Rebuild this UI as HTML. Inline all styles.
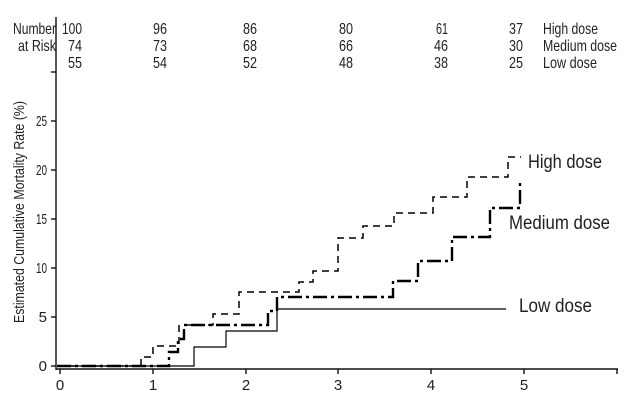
<!DOCTYPE html>
<html><head><meta charset="utf-8"><style>
body{margin:0;background:#fff}
svg text{font-family:"Liberation Sans Narrow","Liberation Sans",sans-serif;fill:#222}
</style></head><body>
<svg width="625" height="402" viewBox="0 0 625 402" xmlns="http://www.w3.org/2000/svg">
<g font-size="16">
<text x="13" y="34" textLength="43" lengthAdjust="spacingAndGlyphs">Number</text>
<text x="18" y="51" textLength="38" lengthAdjust="spacingAndGlyphs">at Risk</text>
<g text-anchor="end">
<text x="82" y="34" textLength="20" lengthAdjust="spacingAndGlyphs">100</text><text x="167" y="34" textLength="14" lengthAdjust="spacingAndGlyphs">96</text><text x="257" y="34" textLength="14" lengthAdjust="spacingAndGlyphs">86</text><text x="353" y="34" textLength="14" lengthAdjust="spacingAndGlyphs">80</text><text x="448" y="34" textLength="12" lengthAdjust="spacingAndGlyphs">61</text><text x="523" y="34" textLength="14" lengthAdjust="spacingAndGlyphs">37</text>
<text x="82" y="51" textLength="14" lengthAdjust="spacingAndGlyphs">74</text><text x="167" y="51" textLength="14" lengthAdjust="spacingAndGlyphs">73</text><text x="257" y="51" textLength="14" lengthAdjust="spacingAndGlyphs">68</text><text x="353" y="51" textLength="14" lengthAdjust="spacingAndGlyphs">66</text><text x="448" y="51" textLength="14" lengthAdjust="spacingAndGlyphs">46</text><text x="523" y="51" textLength="14" lengthAdjust="spacingAndGlyphs">30</text>
<text x="82" y="68" textLength="14" lengthAdjust="spacingAndGlyphs">55</text><text x="167" y="68" textLength="14" lengthAdjust="spacingAndGlyphs">54</text><text x="257" y="68" textLength="14" lengthAdjust="spacingAndGlyphs">52</text><text x="353" y="68" textLength="14" lengthAdjust="spacingAndGlyphs">48</text><text x="448" y="68" textLength="14" lengthAdjust="spacingAndGlyphs">38</text><text x="523" y="68" textLength="14" lengthAdjust="spacingAndGlyphs">25</text>
</g>
<text x="543" y="34" textLength="55" lengthAdjust="spacingAndGlyphs">High dose</text>
<text x="543" y="51" textLength="74" lengthAdjust="spacingAndGlyphs">Medium dose</text>
<text x="543" y="68" textLength="54" lengthAdjust="spacingAndGlyphs">Low dose</text>
</g>
<g stroke="#111" stroke-width="1.4" fill="none">
<line x1="56" y1="17" x2="56" y2="370"/>
<line x1="56" y1="369" x2="618" y2="369"/>
<line x1="51" y1="72" x2="56" y2="72"/>
<line x1="51" y1="121" x2="56" y2="121"/>
<line x1="51" y1="170" x2="56" y2="170"/>
<line x1="51" y1="219" x2="56" y2="219"/>
<line x1="51" y1="268" x2="56" y2="268"/>
<line x1="51" y1="317" x2="56" y2="317"/>
<line x1="51" y1="366" x2="56" y2="366"/>
<line x1="60" y1="369" x2="60" y2="374"/>
<line x1="153" y1="369" x2="153" y2="374"/>
<line x1="246" y1="369" x2="246" y2="374"/>
<line x1="338" y1="369" x2="338" y2="374"/>
<line x1="431" y1="369" x2="431" y2="374"/>
<line x1="524" y1="369" x2="524" y2="374"/>
<line x1="617" y1="369" x2="617" y2="374"/>
</g>
<g font-size="15" text-anchor="end">
<text x="47" y="126" textLength="11" lengthAdjust="spacingAndGlyphs">25</text><text x="47" y="175" textLength="11" lengthAdjust="spacingAndGlyphs">20</text><text x="47" y="224" textLength="11" lengthAdjust="spacingAndGlyphs">15</text><text x="47" y="273" textLength="11" lengthAdjust="spacingAndGlyphs">10</text><text x="47" y="322">5</text><text x="47" y="371">0</text>
</g>
<g font-size="15" text-anchor="middle">
<text x="60" y="390">0</text><text x="153" y="390">1</text><text x="246" y="390">2</text><text x="338" y="390">3</text><text x="431" y="390">4</text><text x="524" y="390">5</text>
</g>
<text font-size="15" text-anchor="middle" textLength="222" lengthAdjust="spacingAndGlyphs" transform="translate(24,212) rotate(-90)">Estimated Cumulative Mortality Rate (%)</text>
<polyline fill="none" stroke="#000" stroke-width="1.2" points="57,366 194,366 194,347 226,347 226,331 277,331 277,309 506,309"/>
<polyline fill="none" stroke="#000" stroke-width="1.5" stroke-dasharray="7,5" points="57,366 141,366 141,357 153,357 153,346 179,346 179,325 213,325 213,314 239,314 239,292 299,292 299,282 313,282 313,271 338,271 338,238 363,238 363,226 394,226 394,213 433,213 433,197 467,197 467,177 508,177 508,157 521,157"/>
<polyline fill="none" stroke="#000" stroke-width="2.4" stroke-dasharray="14,4,3,4" points="57,366 169,366 169,352 178,352 178,339 184,339 184,325 268,325 268,311 277,311 277,297 393,297 393,281 418,281 418,261 452,261 452,237 490,237 490,208 520,208 520,183"/>
<g font-size="19">
<text x="528" y="168" textLength="74" lengthAdjust="spacingAndGlyphs">High dose</text>
<text x="509" y="229" textLength="101" lengthAdjust="spacingAndGlyphs">Medium dose</text>
<text x="519" y="312" textLength="73" lengthAdjust="spacingAndGlyphs">Low dose</text>
</g>
</svg>
</body></html>
